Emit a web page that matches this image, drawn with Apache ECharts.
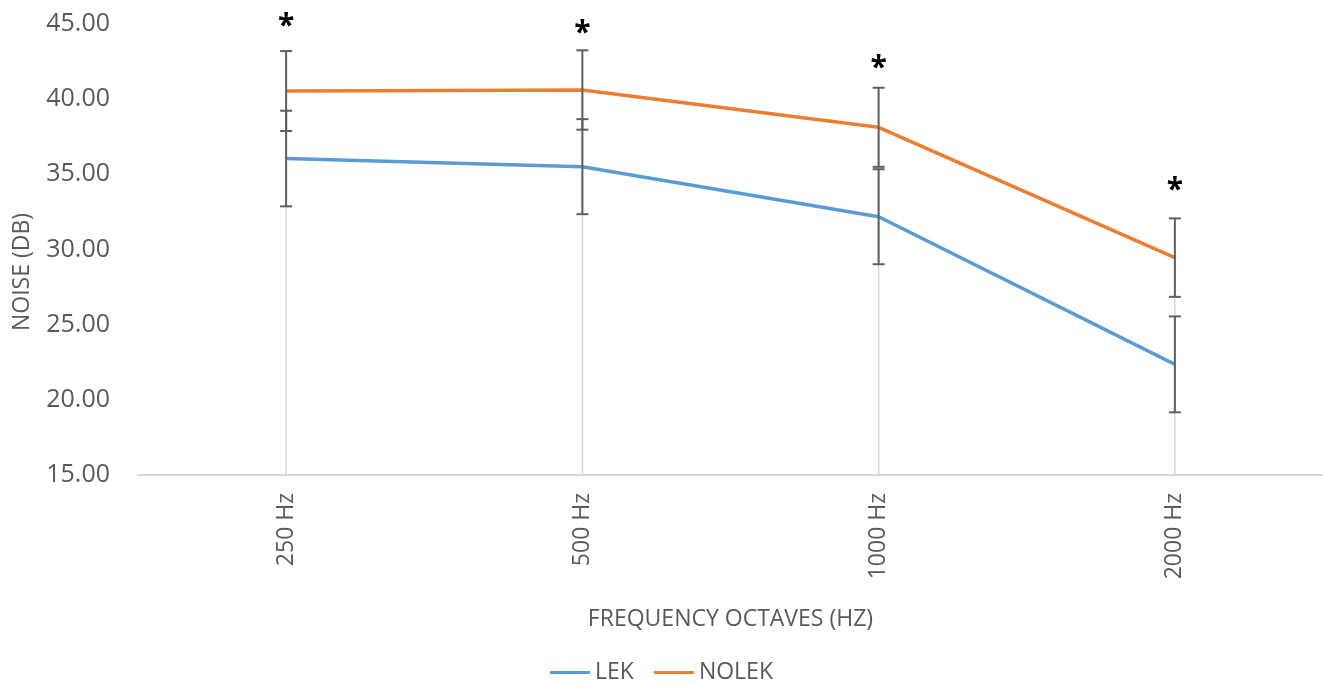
<html>
<head>
<meta charset="utf-8"/>
<title>Noise by frequency octave</title>
<script src="https://cdn.jsdelivr.net/npm/echarts@6/dist/echarts.min.js"></script>
<style>
  html, body { margin: 0; padding: 0; background: #fff; }
  #main { width: 1323px; height: 685px; }
</style>
</head>
<body>
<div id="main"></div>
<script type="text/javascript">
    var categories = ['250 Hz', '500 Hz', '1000 Hz', '2000 Hz'];
    var lekMean = [36.05, 35.51, 32.18, 22.36];
    var lekErr = [3.18, 3.16, 3.16, 3.19];
    var nolekMean = [40.54, 40.61, 38.13, 29.46];
    var nolekErr = [2.66, 2.64, 2.63, 2.61];
    var starY = [44.85, 44.35, 42.05, 33.95];
    var yTicks = { min: 15, max: 45, interval: 5 };

    var font = '"Open Sans", "Noto Sans", sans-serif';
    var grey = '#595959';

    var errData = [];
    for (var i = 0; i < categories.length; i++) {
        errData.push([i, lekMean[i] - lekErr[i], lekMean[i] + lekErr[i]]);
        errData.push([i, nolekMean[i] - nolekErr[i], nolekMean[i] + nolekErr[i]]);
    }
    // excel style drop lines from the top point down to the axis
    var dropData = categories.map(function (c, i) {
        return [i, Math.max(lekMean[i], nolekMean[i])];
    });
    var starData = categories.map(function (c, i) { return [i, starY[i]]; });

    var myChart = echarts.init(document.getElementById('main'));
    var option = {
        animation: false,
        textStyle: { fontFamily: font },
        grid: { left: 138, right: 0, top: 24, bottom: 210, containLabel: false },
        graphic: [{
            type: 'text',
            x: 22,
            y: 272,
            rotation: Math.PI / 2,
            style: {
                text: 'NOISE (DB)',
                fill: grey,
                font: '23px ' + font,
                align: 'center',
                verticalAlign: 'middle'
            }
        }],
        legend: {
            top: 656,
            left: 'center',
            data: ['LEK', 'NOLEK'],
            icon: 'rect',
            itemWidth: 40,
            itemHeight: 3,
            itemGap: 20,
            textStyle: { color: grey, fontSize: 23, fontFamily: font }
        },
        xAxis: {
            type: 'category',
            data: categories,
            boundaryGap: true,
            name: 'FREQUENCY OCTAVES (HZ)',
            nameLocation: 'middle',
            nameGap: 133,
            nameTextStyle: { color: grey, fontSize: 23, fontFamily: font },
            axisLine: { lineStyle: { color: '#d9d9d9', width: 2 } },
            axisTick: { show: false },
            axisLabel: { rotate: 90, color: grey, fontSize: 23, margin: 18, fontFamily: font },
            splitLine: { show: false }
        },
        yAxis: {
            type: 'value',
            min: yTicks.min,
            max: yTicks.max,
            interval: yTicks.interval,
            axisLine: { show: false },
            axisTick: { show: false },
            splitLine: { show: false },
            axisLabel: {
                color: grey, fontSize: 25, margin: 28, fontFamily: font,
                formatter: function (v) { return v.toFixed(2); }
            }
        },
        series: [
            {
                name: 'drop',
                type: 'custom',
                silent: true,
                z: 1,
                data: dropData,
                renderItem: function (params, api) {
                    var top = api.coord([api.value(0), api.value(1)]);
                    var bot = api.coord([api.value(0), yTicks.min]);
                    return {
                        type: 'line',
                        shape: { x1: top[0], y1: top[1], x2: bot[0], y2: bot[1] },
                        style: { stroke: '#d9d9d9', lineWidth: 1.5 }
                    };
                }
            },
            {
                name: 'LEK',
                type: 'line',
                data: lekMean,
                symbol: 'none',
                z: 3,
                itemStyle: { color: '#5B9BD5' },
                lineStyle: { color: '#5B9BD5', width: 3.5 }
            },
            {
                name: 'NOLEK',
                type: 'line',
                data: nolekMean,
                symbol: 'none',
                z: 3,
                itemStyle: { color: '#ED7D31' },
                lineStyle: { color: '#ED7D31', width: 3.5 }
            },
            {
                name: 'err',
                type: 'custom',
                silent: true,
                z: 4,
                data: errData,
                renderItem: function (params, api) {
                    var lo = api.coord([api.value(0), api.value(1)]);
                    var hi = api.coord([api.value(0), api.value(2)]);
                    var w = 6;
                    var st = { stroke: '#5f5f5f', lineWidth: 2 };
                    return {
                        type: 'group',
                        children: [
                            { type: 'line', shape: { x1: lo[0], y1: lo[1], x2: hi[0], y2: hi[1] }, style: st },
                            { type: 'line', shape: { x1: lo[0] - w, y1: lo[1], x2: lo[0] + w, y2: lo[1] }, style: st },
                            { type: 'line', shape: { x1: hi[0] - w, y1: hi[1], x2: hi[0] + w, y2: hi[1] }, style: st }
                        ]
                    };
                }
            },
            {
                name: 'star',
                type: 'custom',
                silent: true,
                z: 5,
                data: starData,
                renderItem: function (params, api) {
                    var p = api.coord([api.value(0), api.value(1)]);
                    return {
                        type: 'text',
                        x: p[0],
                        y: p[1],
                        style: {
                            text: '*',
                            fill: '#000',
                            font: 'bold 30px ' + font,
                            align: 'center',
                            verticalAlign: 'middle'
                        }
                    };
                }
            }
        ]
    };
    myChart.setOption(option);
</script>
</body>
</html>
